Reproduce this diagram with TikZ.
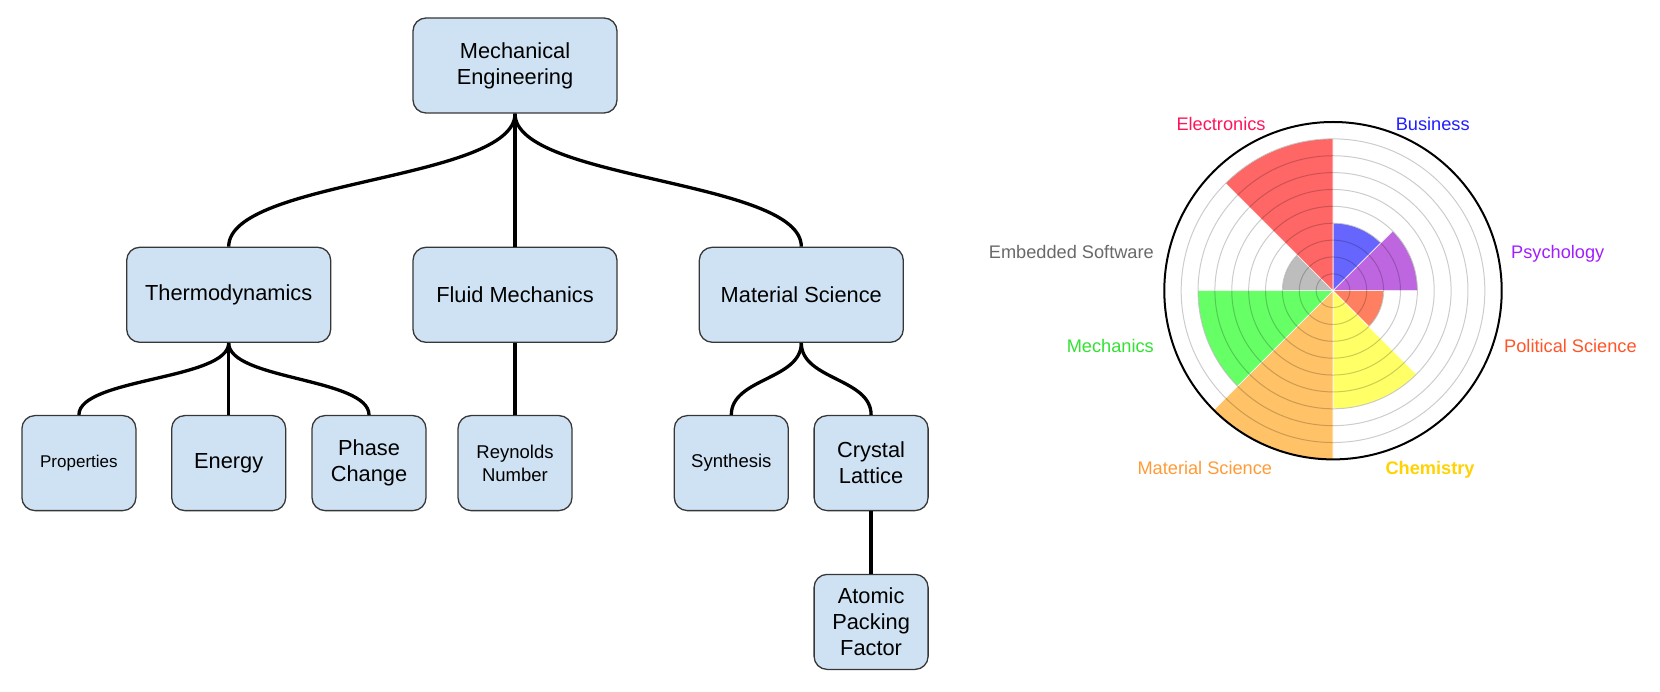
\documentclass[tikz,border=0pt]{standalone}
\usepackage{fontspec}
\setmainfont{Liberation Sans}
\usetikzlibrary{positioning}

\definecolor{boxfill}{RGB}{207,226,243}
\definecolor{boxline}{RGB}{55,55,55}
\definecolor{sectBiz}{RGB}{102,102,255}
\definecolor{sectPsy}{RGB}{190,102,224}
\definecolor{sectPol}{RGB}{255,128,96}
\definecolor{sectChem}{RGB}{255,255,102}
\definecolor{sectMat}{RGB}{255,194,102}
\definecolor{sectMech}{RGB}{102,255,102}
\definecolor{sectEmb}{RGB}{189,189,189}
\definecolor{sectElec}{RGB}{255,102,102}
\definecolor{labElec}{RGB}{255,20,90}
\definecolor{labBiz}{RGB}{30,30,255}
\definecolor{labPsy}{RGB}{160,30,255}
\definecolor{labPol}{RGB}{255,85,40}
\definecolor{labChem}{RGB}{255,210,0}
\definecolor{labMat}{RGB}{255,155,55}
\definecolor{labMech}{RGB}{50,225,50}
\definecolor{labEmb}{RGB}{105,105,105}

\begin{document}
\begin{tikzpicture}
    [x=1pt, y=1pt,
    node distance=81pt,
    every node/.style={font=\fontsize{21.8}{25.8}\selectfont},
    topic/.style={
      rectangle,
      rounded corners=13pt,
      minimum width=204pt,
      minimum height=95pt,
      align=center,
      draw=boxline,
      fill=boxfill,
      line width=1.3pt},
    leaf/.style={topic, minimum width=114pt},
    small/.style={font=\fontsize{18.5}{23}\selectfont},
    link/.style={line width=3.3pt},
    fork/.style={out=-90, in=90, distance=#1},
    ring/.style={draw=black, draw opacity=0.2, line width=1pt},
    catlabel/.style={inner sep=0pt, font=\fontsize{18.2}{22}\selectfont}
    ]
    \useasboundingbox (0,0) rectangle (1660,-692);
    \node (mech) [topic] at (515,-65.5) {Mechanical\\Engineering};
    \node (fluid) [below=133pt of mech] [topic] {Fluid Mechanics};
    \node (thermo) [left=of fluid] [topic] {Thermodynamics};
    \node (material) [right=of fluid] [topic] {Material Science};
    \node (energy) [below=72pt of thermo] [leaf] {Energy};
    \node (props) [left=34.5pt of energy] [leaf, font=\fontsize{17}{20}\selectfont] {Properties};
    \node (phase) [right=25pt of energy] [leaf] {Phase\\Change};
    \node (reynolds) [below=72pt of fluid] [leaf, small] {Reynolds\\Number};
    \node (synth) [below=72pt of material, xshift=-70pt] [leaf, small] {Synthesis};
    \node (crystal) [right=24.5pt of synth] [leaf] {Crystal\\Lattice};
    \node (atomic) [below=62.5pt of crystal] [leaf] {Atomic\\Packing\\Factor};
    \path[link]
      (mech.south) edge[fork=67pt] (thermo.north)
      (mech.south) edge (fluid.north)
      (mech.south) edge[fork=67pt] (material.north)
      (thermo.south) edge[fork=37pt] (props.north)
      (thermo.south) edge (energy.north)
      (thermo.south) edge[fork=37pt] (phase.north)
      (fluid) edge (reynolds)
      (material.south) edge[fork=37pt] (synth.north)
      (material.south) edge[fork=37pt] (crystal.north)
      (crystal) edge (atomic);

    \coordinate (chart) at (1333,-290.7);
    \foreach \val/\start/\sectcol in {4/45/sectBiz, 5/0/sectPsy, 3/-45/sectPol, 7/-90/sectChem,
        10/-135/sectMat, 8/180/sectMech, 3/135/sectEmb, 9/90/sectElec}
      \filldraw[fill=\sectcol, draw=white, line width=0.6pt] (chart) -- ++(\start:\val*16.87)
        arc[start angle=\start, delta angle=45, radius=\val*16.87] -- cycle;
    \foreach \k in {1,...,9}
      \draw[ring] (chart) circle[radius=\k*16.87];
    \draw[line width=2pt] (chart) circle[radius=168.7];
    \node (elec) [catlabel, anchor=base, text=labElec] at (1221,-130.8) {Electronics};
    \node (biz) [catlabel, anchor=base, text=labBiz] at (1432.7,-130.8) {Business};
    \node (psy) [catlabel, anchor=base west, text=labPsy] at (1511,-259) {Psychology};
    \node (pol) [catlabel, anchor=base west, text=labPol] at (1504,-352.5) {Political Science};
    \node (chem) [catlabel, anchor=base, text=labChem] at (1430,-474) {\bfseries Chemistry};
    \node (matsci) [catlabel, anchor=base, text=labMat] at (1204.8,-474) {Material Science};
    \node (mechs) [catlabel, anchor=base east, text=labMech] at (1154,-352.5) {Mechanics};
    \node (embsw) [catlabel, anchor=base east, text=labEmb] at (1154,-259) {Embedded Software};
\end{tikzpicture}
\end{document}
